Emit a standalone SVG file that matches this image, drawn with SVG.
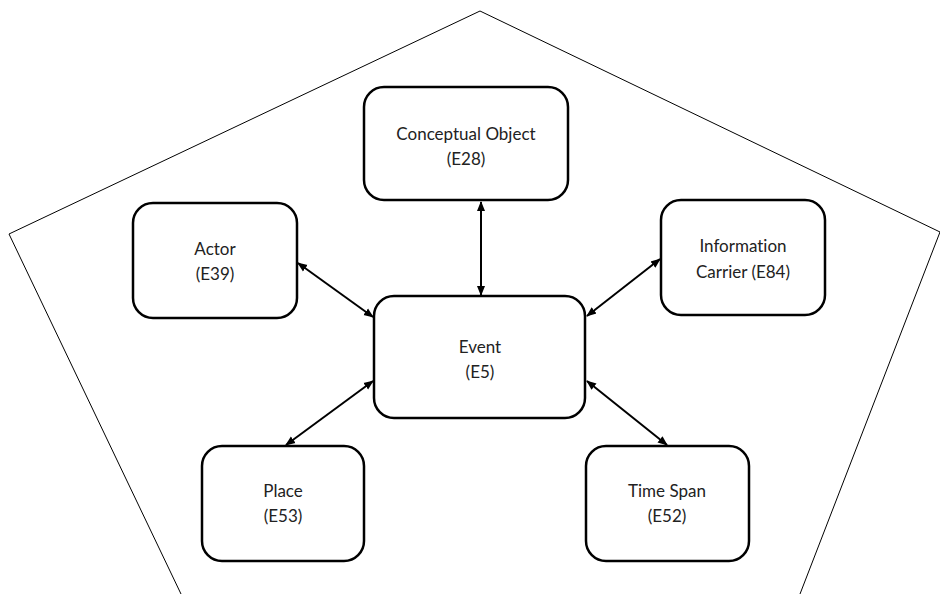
<svg xmlns="http://www.w3.org/2000/svg" width="940" height="594" viewBox="0 0 940 594">
  <style>
    .frame { fill: none; stroke: #000; stroke-width: 1; }
    .box { fill: #fff; stroke: #000; stroke-width: 2.5; }
    .label { font-family: Lato, "Liberation Sans", Arial, sans-serif; font-size: 17px; fill: #222; text-anchor: middle; font-variant-ligatures: none; }
    .link { stroke: #000; stroke-width: 2; fill: none; marker-start: url(#head); marker-end: url(#head); }
  </style>
  <defs>
    <marker id="head" viewBox="0 0 10 10" refX="9" refY="5" markerWidth="5" markerHeight="5" orient="auto-start-reverse" markerUnits="strokeWidth">
      <path d="M0,1 L10,5 L0,9 z" fill="#000"/>
    </marker>
  </defs>

  <rect width="940" height="594" fill="#fff"/>

  <!-- outer pentagon -->
  <polyline class="frame" points="181,594 9,234 480,11 940,232 800,594"/>

  <!-- connectors -->
  <g id="connectors">
    <line class="link" x1="481" y1="202" x2="481" y2="295"/>
    <line class="link" x1="298" y1="263" x2="373" y2="317"/>
    <line class="link" x1="660" y1="259" x2="587" y2="316"/>
    <line class="link" x1="286" y1="445" x2="373" y2="381"/>
    <line class="link" x1="587" y1="381" x2="667" y2="445"/>
  </g>

  <g id="conceptual-object">
    <rect class="box" x="364" y="87" width="204" height="113" rx="20"/>
    <text class="label" x="466" y="140">Conceptual Object</text>
    <text class="label" x="466" y="165">(E28)</text>
  </g>

  <g id="actor">
    <rect class="box" x="133" y="203" width="164" height="115" rx="20"/>
    <text class="label" x="215" y="255">Actor</text>
    <text class="label" x="215" y="280">(E39)</text>
  </g>

  <g id="event">
    <rect class="box" x="374" y="296" width="211" height="122" rx="20"/>
    <text class="label" x="480" y="353">Event</text>
    <text class="label" x="480" y="378">(E5)</text>
  </g>

  <g id="information-carrier">
    <rect class="box" x="661" y="200" width="164" height="115" rx="20"/>
    <text class="label" x="743" y="252">Information</text>
    <text class="label" x="743" y="278">Carrier (E84)</text>
  </g>

  <g id="place">
    <rect class="box" x="202" y="446" width="162" height="115" rx="20"/>
    <text class="label" x="283" y="497">Place</text>
    <text class="label" x="283" y="522">(E53)</text>
  </g>

  <g id="time-span">
    <rect class="box" x="586" y="446" width="163" height="115" rx="20"/>
    <text class="label" x="667" y="497">Time Span</text>
    <text class="label" x="667" y="522">(E52)</text>
  </g>
</svg>
